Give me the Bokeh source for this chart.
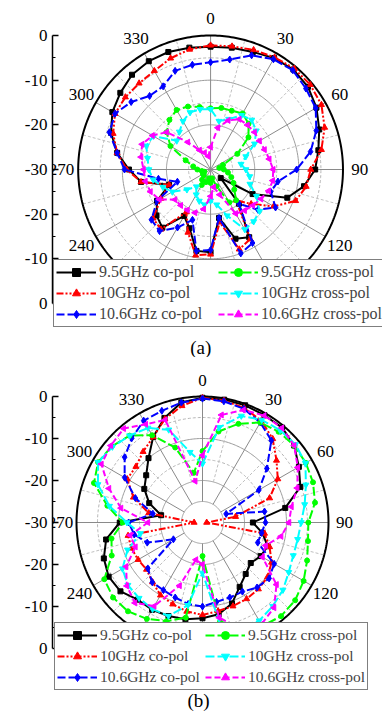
import numpy as np
from bokeh.plotting import figure
from bokeh.models import LinearAxis, FixedTicker, Range1d, Legend, LegendItem
from bokeh.layouts import column
from bokeh.embed import file_html
from bokeh.resources import INLINE
from bokeh.core.properties import value

# ---------------- data ----------------
angle_deg = list(range(0, 360, 10))          # 0, 10, ..., 350 (deg, clockwise from top)
series_names = ["9.5GHz co-pol", "10GHz co-pol", "10.6GHz co-pol",
                "9.5GHz cross-pol", "10GHz cross-pol", "10.6GHz cross-pol"]
r_ticks = [-30, -20, -10, 0, 10, 20, 30]
r_tick_labels = ["0", "-10", "-20", "-30", "-20", "-10", "0"]
ang_ticks = list(range(0, 360, 30))
ang_tick_labels = [str(a) for a in ang_ticks]

# panel (a), dB
a_co_95 = [-2.5, -2.3, -2, -1.2, -0.8, -1.2, -2.3, -3.8, -5.2, -6.3, -8.5, -11.5,
           -19, -27, -20, -12.5, -13.5, -19, -11.5, -11.5, -16, -18, -13, -14,
           -16, -20, -14, -11.5, -8.5, -6, -4.3, -3.3, -2.3, -2, -2, -2.3]
a_co_10 = [-2.2, -2, -1.5, -1, -0.5, -0.5, -1, -2.5, -4.5, -7.3, -8, -9.5,
           -13.5, -18, -21, -12, -11, -18, -11, -10.5, -15, -19, -12.5, -13,
           -17, -20, -14, -11, -8.5, -6.5, -5, -4.8, -4.8, -4.5, -3.5, -2.7]
a_co_106 = [-6, -5, -2.8, -1.5, -1, -1.8, -2.5, -4.5, -7, -10.5, -14.5, -15.5,
            -13, -16, -20, -11, -10, -19, -12, -11.5, -18, -15, -12, -12.5,
            -16, -22, -18, -10.5, -8.5, -5.6, -5, -6.5, -8.5, -8.5, -6.5, -6.2]
a_x_95 = [-16.3, -16, -16, -15.5, -16.6, -18.8, -23, -27, -28, -27, -26, -25,
          -24, -23, -21, -21.5, -26, -28, -27, -28, -27, -26, -27, -28,
          -28, -28.5, -28, -27, -26, -24, -19.5, -17, -15.5, -14.6, -15, -15.8]
a_x_10 = [-16.5, -19, -18, -16, -15.5, -16.5, -18.5, -21.5, -23, -22, -21, -20.5,
          -18, -15.5, -14.8, -14.5, -19, -22, -23, -22, -22.5, -23.5, -25, -23,
          -20, -18.5, -16.8, -16, -15.5, -14.5, -15, -20, -19, -17.5, -16.4, -16.3]
a_x_106 = [-25, -20.5, -18.3, -17, -17, -17, -17.2, -17, -16.5, -15.8, -15.7, -16,
           -16.8, -17.5, -18, -18.6, -24, -26, -24, -21, -19.7, -19.5, -19.5, -19.5,
           -16.6, -15.5, -15, -14.8, -14, -13.5, -14.8, -17, -22, -25, -26, -27]

# panel (b), dB
b_co_95 = [-0.3, -0.3, -0.3, -0.5, -0.5, -1.5, -3.5, -5.2, -10, -18, -15.5, -13.5,
           -14, -15, -14, -12.3, -9.5, -7.8, -7.2, -6.6, -6.3, -6, -6, -4.5,
           -4.2, -5, -6.7, -10.3, -20, -16.5, -14, -12.5, -10, -6.5, -3.5, -1]
b_co_10 = [-0.3, -0.5, -1, -2, -4, -7, -9.3, -13, -22, -29, -15, -13,
           -11, -9.8, -9.3, -9, -8.8, -8.6, -8, -8.5, -9.3, -10, -11.5, -12.6,
           -12.3, -12, -12, -28, -17, -12.5, -9.3, -9.3, -8, -6.5, -3.8, -1.8]
b_co_106 = [-0.5, -0.7, -1.2, -2.5, -4.5, -10, -14.5, -24, -15, -15, -15.7, -16,
            -10.3, -9.3, -9.8, -11, -11, -10.8, -10, -10.3, -11, -11.4, -11.4, -13,
            -22, -16, -13.5, -12.4, -18, -13, -8.6, -5.8, -3.8, -2, -1.7, -1]
b_x_95 = [-13, -8, -5, -2.5, -1.8, -1.5, -1.6, -2, -2.8, -4.8, -4.5, -3.5,
          -2.2, -1.2, -0.9, -1.5, -4, -6, -22, -7, -5, -3.5, -2.4, -2.2,
          -3, -7, -8, -11, -7, -2.5, -1.3, -1.8, -3, -6, -11, -18]
b_x_10 = [-16, -7, -3, -1.8, -1.3, -1.1, -1.7, -3.8, -5.3, -6.5, -7, -7,
          -6.3, -5, -4, -3, -3.5, -5, -18, -10, -6.3, -6.2, -6.5, -6.8,
          -8, -11, -15, -12, -7.5, -3.5, -1.3, -2, -3, -4, -6.5, -13]
b_x_106 = [-14, -4, -1.5, -0.6, -0.6, -1.5, -3.8, -6, -8.5, -9.4, -11, -14,
           -13.5, -7, -3.5, -2, -3, -7, -20, -21, -14, -7, -5, -6.5,
           -9, -13, -12.5, -17, -10.3, -6.3, -2.2, -1.5, -0.8, -3, -4, -20]

FONT = "Liberation Serif"
STYLES = [
    dict(color="#000000", dash="solid", marker="square", angle=0.0, size=5),
    dict(color="#FF0000", dash="7 2 2 2 2 2", marker="triangle", angle=0.0, size=6),
    dict(color="#0000FF", dash="8 3", marker="diamond", angle=0.0, size=7),
    dict(color="#00FF00", dash="9 3", marker="circle", angle=0.0, size=5),
    dict(color="#00FFFF", dash="9 3", marker="inverted_triangle", angle=0.0, size=6),
    dict(color="#FF00FF", dash="6 3", marker="triangle", angle=np.pi / 2, size=6),
]


def to_xy(deg, db):
    th = np.radians(np.asarray(deg, dtype=float))
    r = np.clip(np.asarray(db, dtype=float) + 30.0, 0, 30)
    return r * np.sin(th), r * np.cos(th)


def panel(series, cx, cy, R, left, H, legend_xy, caption, cap_px, legend_font,
          hole, ang_font, lab_gap, label_w):
    W = 382
    s = R / 30.0
    p = figure(width=W, height=H,
               x_range=Range1d((left - cx) / s, (W - cx) / s),
               y_range=Range1d((cy - H) / s, cy / s),
               x_axis_location=None, y_axis_location=None,
               toolbar_location=None, output_backend="svg",
               min_border_left=left, min_border_right=0,
               min_border_top=0, min_border_bottom=0,
               outline_line_color=None, background_fill_color="white")
    p.xgrid.visible = False
    p.ygrid.visible = False

    # polar grid
    t = np.linspace(0, 2 * np.pi, 361)
    for rr in (10, 20):
        p.line(rr * np.sin(t), rr * np.cos(t), line_color="#9a9a9a", line_width=1)
    for rr in (5, 15, 25):
        if hole and rr == 5:
            p.line(rr * np.sin(t), rr * np.cos(t), line_color="#9a9a9a", line_width=1)
        else:
            p.line(rr * np.sin(t), rr * np.cos(t), line_color="#b5b5b5",
                   line_width=1, line_dash="3 2")
    r0 = 5 if hole else 0
    xs, ys, xm, ym = [], [], [], []
    for a in range(0, 360, 30):
        th = np.radians(a)
        xs.append([r0 * np.sin(th), 30 * np.sin(th)])
        ys.append([r0 * np.cos(th), 30 * np.cos(th)])
        th2 = np.radians(a + 15)
        xm.append([max(r0, 10) * np.sin(th2), 30 * np.sin(th2)])
        ym.append([max(r0, 10) * np.cos(th2), 30 * np.cos(th2)])
    p.multi_line(xm, ym, line_color="#c0c0c0", line_width=1, line_dash="3 2")
    p.multi_line(xs, ys, line_color="#8a8a8a", line_width=1)
    p.line(30 * np.sin(t), 30 * np.cos(t), line_color="black", line_width=2)

    # curves
    items = []
    for name, vals, st in zip(series_names, series, STYLES):
        deg = angle_deg + [360]
        db = list(vals) + [vals[0]]
        x, y = to_xy(deg, db)
        lr = p.line(x, y, line_color=st["color"], line_width=2, line_dash=st["dash"],
                    line_join="round")
        sr = p.scatter(x[:-1], y[:-1], marker=st["marker"], size=st["size"],
                       angle=st["angle"], fill_color=st["color"],
                       line_color=st["color"])
        items.append(LegendItem(label=name, renderers=[lr, sr]))

    # angle labels
    lx, ly = [], []
    for a in ang_ticks:
        th = np.radians(a)
        rl = 30 + lab_gap / s
        lx.append(rl * np.sin(th))
        ly.append(rl * np.cos(th))
    p.text(lx, ly, text=ang_tick_labels, text_font=value(FONT),
           text_font_size=ang_font, text_align="center", text_baseline="middle",
           text_color="black")

    # left radial axis
    ax = LinearAxis(ticker=FixedTicker(ticks=r_ticks,
                                       minor_ticks=[-25, -15, -5, 5, 15, 25]),
                    major_label_overrides=dict(zip(r_ticks, r_tick_labels)),
                    bounds=(-30, 30))
    ax.axis_line_width = 1.5
    ax.axis_line_color = "black"
    ax.major_tick_in = 6
    ax.major_tick_out = 0
    ax.minor_tick_in = 3
    ax.minor_tick_out = 0
    ax.major_tick_line_width = 1.5
    ax.major_label_text_font = FONT
    ax.major_label_text_font_size = ang_font
    ax.major_label_text_color = "black"
    ax.major_label_standoff = 5
    p.add_layout(ax, "left")

    leg = Legend(items=items, location=legend_xy, orientation="vertical", nrows=3,
                 label_text_font=FONT, label_text_font_size=legend_font,
                 glyph_width=40, glyph_height=20, label_height=20,
                 label_width=label_w,
                 label_standoff=3, spacing=1, padding=2, margin=0,
                 border_line_color="black", border_line_width=1,
                 background_fill_color="white", background_fill_alpha=1.0)
    p.add_layout(leg, "center")

    # caption
    p.text([(cap_px[0] - cx) / s], [(cy - cap_px[1]) / s], text=[caption],
           text_font=value(FONT), text_font_size="19px", text_align="center",
           text_baseline="middle", text_color="black")
    return p


pa = panel([a_co_95, a_co_10, a_co_106, a_x_95, a_x_10, a_x_106],
           cx=208, cy=169, R=134, left=48, H=357, legend_xy=(1, 30),
           caption="(a)", cap_px=(198, 347), legend_font="16px", hole=False,
           ang_font="17px", lab_gap=17, label_w=118)
pb = panel([b_co_95, b_co_10, b_co_106, b_x_95, b_x_10, b_x_106],
           cx=202, cy=165, R=126, left=52, H=356, legend_xy=(2, 23),
           caption="(b)", cap_px=(198, 343), legend_font="15.5px", hole=True,
           ang_font="17px", lab_gap=16, label_w=104)

layout = column(pa, pb, spacing=0)
open("out.html", "w").write(file_html(layout, INLINE))
